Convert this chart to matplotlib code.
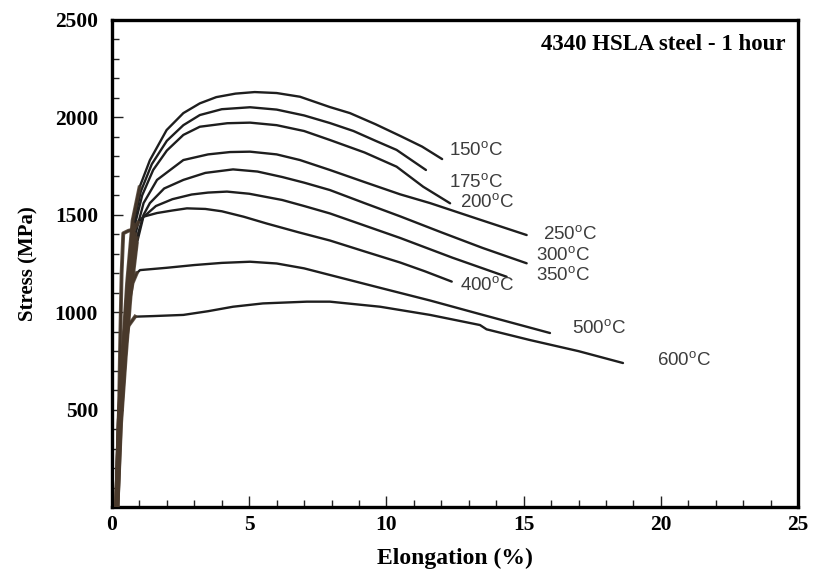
import matplotlib
matplotlib.use('Agg')
import matplotlib.pyplot as plt
from matplotlib.ticker import MultipleLocator

plt.rcParams['mathtext.fontset'] = 'custom'
plt.rcParams['mathtext.rm'] = 'Liberation Sans'

# tempering temperatures (labels) and stress-strain curves
temps = ['150', '175', '200', '250', '300', '350', '400', '500', '600']

x150 = [0.15, 0.25, 0.4, 0.55, 0.75, 1.0, 1.38, 1.99, 2.6, 3.2, 3.8, 4.5, 5.2, 6.0, 6.85, 7.94, 8.67, 9.6, 10.5, 11.3, 12.03]
y150 = [0, 480, 820, 1150, 1470, 1640, 1780, 1935, 2022, 2072, 2104, 2122, 2130, 2125, 2106, 2053, 2022, 1965, 1905, 1850, 1786]

x175 = [0.17, 0.27, 0.42, 0.58, 0.78, 1.05, 1.45, 2.0, 2.6, 3.2, 4.0, 5.03, 6.0, 7.0, 7.94, 8.8, 9.6, 10.37, 11.44]
y175 = [0, 470, 810, 1140, 1450, 1620, 1760, 1880, 1960, 2012, 2042, 2052, 2040, 2010, 1971, 1930, 1880, 1833, 1730]

x200 = [0.18, 0.28, 0.44, 0.6, 0.8, 1.1, 1.5, 2.0, 2.6, 3.2, 4.2, 5.03, 6.0, 7.0, 7.94, 9.2, 10.37, 11.34, 12.32]
y200 = [0, 460, 800, 1130, 1430, 1600, 1730, 1830, 1910, 1952, 1970, 1973, 1960, 1930, 1884, 1820, 1747, 1644, 1559]

x250 = [0.2, 0.3, 0.46, 0.62, 0.85, 1.15, 1.64, 2.6, 3.5, 4.3, 5.03, 6.0, 6.85, 7.94, 9.2, 10.5, 11.59, 13.3, 15.11]
y250 = [0, 450, 790, 1110, 1400, 1560, 1679, 1781, 1810, 1822, 1824, 1810, 1781, 1730, 1668, 1605, 1560, 1480, 1396]

x300 = [0.2, 0.32, 0.48, 0.65, 0.9, 1.15, 1.38, 1.9, 2.6, 3.4, 4.41, 5.3, 6.2, 7.0, 7.94, 9.2, 10.5, 12.0, 13.5, 15.11]
y300 = [0, 440, 780, 1100, 1380, 1500, 1560, 1635, 1679, 1715, 1733, 1722, 1694, 1665, 1627, 1560, 1492, 1410, 1330, 1251]

x350 = [0.2, 0.33, 0.5, 0.68, 0.9, 1.14, 1.6, 2.2, 2.9, 3.5, 4.19, 5.0, 6.2, 7.0, 7.94, 9.2, 10.5, 12.4, 14.38]
y350 = [0, 430, 770, 1090, 1350, 1488, 1545, 1580, 1604, 1614, 1619, 1608, 1576, 1545, 1507, 1445, 1381, 1280, 1182]

x400 = [0.15, 0.25, 0.3, 0.35, 0.41, 0.6, 0.8, 0.95, 1.14, 1.64, 2.2, 2.73, 3.4, 4.0, 4.8, 5.64, 6.8, 7.94, 9.2, 10.5, 11.4, 12.38]
y400 = [0, 450, 860, 1200, 1405, 1418, 1425, 1460, 1490, 1509, 1522, 1533, 1530, 1518, 1490, 1455, 1410, 1368, 1312, 1255, 1210, 1157]

x500 = [0.15, 0.25, 0.38, 0.55, 0.75, 0.9, 1.02, 2.0, 3.0, 4.0, 5.03, 6.0, 7.0, 7.94, 9.77, 11.59, 13.41, 15.96]
y500 = [0, 450, 780, 1000, 1150, 1200, 1216, 1228, 1242, 1253, 1259, 1250, 1225, 1191, 1125, 1060, 990, 893]

x600 = [0.15, 0.25, 0.4, 0.6, 0.84, 1.5, 2.6, 3.5, 4.41, 5.5, 7.1, 7.94, 9.77, 11.59, 13.41, 13.65, 15.23, 17.0, 18.62]
y600 = [0, 450, 760, 930, 977, 980, 986, 1005, 1028, 1045, 1054, 1054, 1028, 986, 934, 912, 857, 800, 739]

curves_x = [x150, x175, x200, x250, x300, x350, x400, x500, x600]
curves_y = [y150, y175, y200, y250, y300, y350, y400, y500, y600]

# label anchor points (left edge, vertical centre) in data units
label_x = [12.28, 12.28, 12.68, 15.7, 15.45, 15.45, 12.68, 16.76, 19.86]
label_y = [1831, 1666, 1563, 1399, 1291, 1188, 1137, 914, 752]

fig = plt.figure(figsize=(8.14, 5.81), dpi=100)
ax = fig.add_axes([0.1376, 0.1274, 0.8428, 0.8382])

for xs, ys in zip(curves_x, curves_y):
    ax.plot(xs, ys, color='#1e1e1e', lw=1.7, solid_capstyle='round',
            solid_joinstyle='round', zorder=3)
    # elastic part is a brownish smudge in the original
    n = sum(1 for v in xs if v <= 1.0)
    ax.plot(xs[:n], ys[:n], color='#4a3a2c', lw=2.8, alpha=0.85,
            solid_joinstyle='round', zorder=4)

for t, lx, ly in zip(temps, label_x, label_y):
    ax.text(lx, ly, t + r'$^{\mathrm{o}}$C', fontsize=13.5, color='#3c3c3c',
            family='Liberation Sans', ha='left', va='center')

ax.text(0.981, 0.949, '4340 HSLA steel - 1 hour', transform=ax.transAxes,
        ha='right', va='center', fontsize=16.5, fontweight='bold',
        family='Liberation Serif')

ax.set_xlim(0, 25)
ax.set_ylim(0, 2500)
ax.xaxis.set_major_locator(MultipleLocator(5))
ax.xaxis.set_minor_locator(MultipleLocator(1))
ax.set_yticks([0, 500, 1000, 1500, 2000, 2500])
ax.set_yticklabels(['', '500', '1000', '1500', '2000', '2500'])
ax.yaxis.set_minor_locator(MultipleLocator(100))
ax.tick_params(which='both', direction='in', width=1, colors='#222222')
ax.tick_params(which='major', length=8)
ax.tick_params(which='minor', length=5)
ax.tick_params(axis='y', pad=10)
ax.tick_params(axis='x', pad=6)
for lab in ax.get_xticklabels() + ax.get_yticklabels():
    lab.set_family('Liberation Serif')
    lab.set_fontweight('bold')
    lab.set_fontsize(15.5)
    lab.set_color('black')

for s in ax.spines.values():
    s.set_linewidth(2.4)

ax.set_xlabel('Elongation (%)', fontsize=17, fontweight='bold',
              family='Liberation Serif', labelpad=9)
ax.set_ylabel('Stress (MPa)', fontsize=15, fontweight='bold',
              family='Liberation Serif', labelpad=12)

fig.savefig('out.png', dpi=100)
